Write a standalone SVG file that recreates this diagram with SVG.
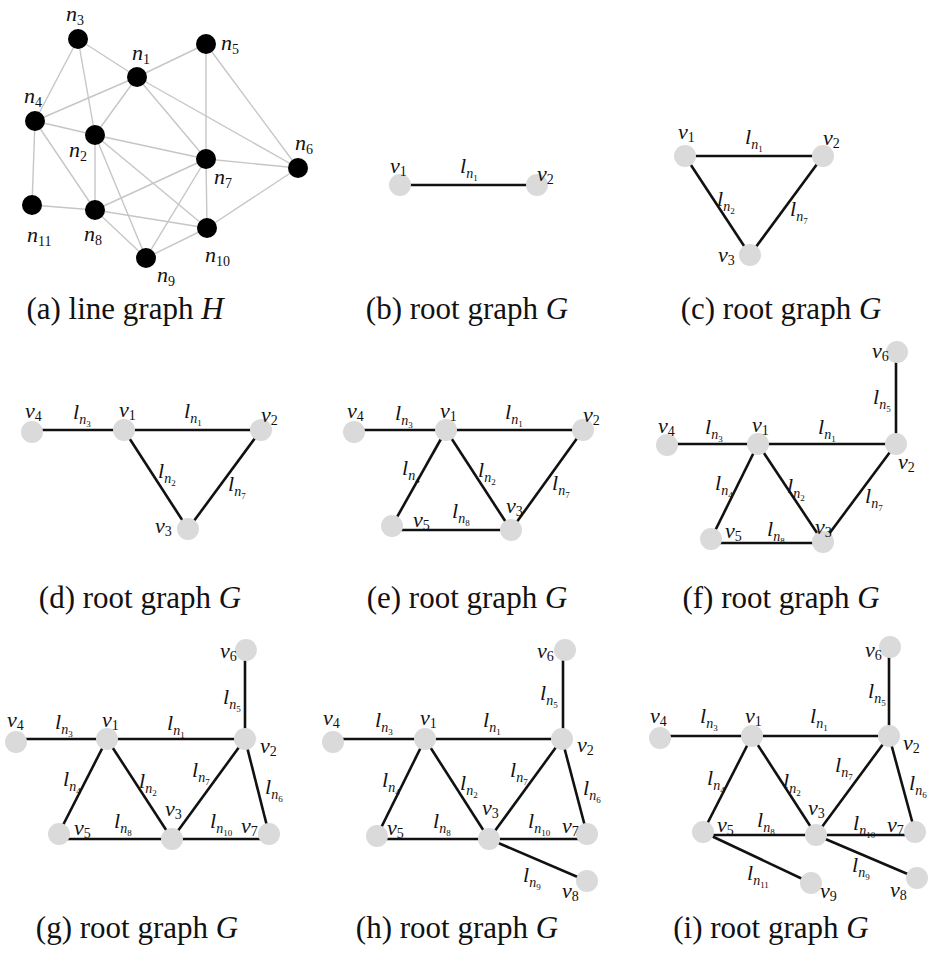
<svg xmlns="http://www.w3.org/2000/svg" width="928" height="961" viewBox="0 0 928 961">
<style>
.bg{fill:#ffffff}
.ea{stroke:#c6c6c6;stroke-width:1.4;fill:none}
.e{stroke:#111111;stroke-width:2.6;fill:none}
.na{fill:#000000}
.n{fill:#dadada}
.t{font-family:"Liberation Serif",serif;font-style:italic;font-size:22px;fill:#111}
.s{font-style:normal;font-size:14px}
.sn{font-style:italic;font-size:14px}
.ss{font-style:normal;font-size:9px}
.cap{font-family:"Liberation Serif",serif;font-size:31px;fill:#111;text-anchor:middle}
</style>
<rect class="bg" x="0" y="0" width="928" height="961"/>
<g id="connectors">
 <g id="edges-a" class="ea">
  <line x1="78" y1="39" x2="35" y2="121"/>
  <line x1="78" y1="39" x2="95" y2="135"/>
  <line x1="78" y1="39" x2="137" y2="77"/>
  <line x1="137" y1="77" x2="206" y2="44"/>
  <line x1="137" y1="77" x2="35" y2="121"/>
  <line x1="137" y1="77" x2="95" y2="135"/>
  <line x1="137" y1="77" x2="206" y2="159"/>
  <line x1="137" y1="77" x2="298" y2="168"/>
  <line x1="206" y1="44" x2="206" y2="159"/>
  <line x1="206" y1="44" x2="298" y2="168"/>
  <line x1="35" y1="121" x2="95" y2="135"/>
  <line x1="35" y1="121" x2="32" y2="205"/>
  <line x1="35" y1="121" x2="95" y2="210"/>
  <line x1="95" y1="135" x2="206" y2="159"/>
  <line x1="95" y1="135" x2="95" y2="210"/>
  <line x1="95" y1="135" x2="146" y2="258"/>
  <line x1="95" y1="135" x2="207" y2="228"/>
  <line x1="206" y1="159" x2="298" y2="168"/>
  <line x1="206" y1="159" x2="95" y2="210"/>
  <line x1="206" y1="159" x2="146" y2="258"/>
  <line x1="206" y1="159" x2="207" y2="228"/>
  <line x1="298" y1="168" x2="207" y2="228"/>
  <line x1="32" y1="205" x2="95" y2="210"/>
  <line x1="95" y1="210" x2="207" y2="228"/>
  <line x1="95" y1="210" x2="146" y2="258"/>
  <line x1="146" y1="258" x2="207" y2="228"/>
 </g>
 <g id="edges-b" class="e">
  <line x1="400" y1="185" x2="537" y2="185"/>
 </g>
 <g id="edges-c" class="e">
  <line x1="685" y1="156" x2="823" y2="156"/>
  <line x1="685" y1="156" x2="750" y2="255"/>
  <line x1="823" y1="156" x2="750" y2="255"/>
 </g>
 <g id="edges-d" class="e">
  <line x1="32" y1="430" x2="124" y2="430"/>
  <line x1="124" y1="430" x2="261" y2="430"/>
  <line x1="124" y1="430" x2="188" y2="529"/>
  <line x1="261" y1="430" x2="188" y2="529"/>
 </g>
 <g id="edges-e" class="e">
  <line x1="354" y1="430" x2="446" y2="430"/>
  <line x1="446" y1="430" x2="583" y2="430"/>
  <line x1="446" y1="430" x2="392" y2="526"/>
  <line x1="446" y1="430" x2="511" y2="530"/>
  <line x1="583" y1="430" x2="511" y2="530"/>
  <line x1="392" y1="530" x2="511" y2="530"/>
 </g>
 <g id="edges-f" class="e">
  <line x1="896" y1="352" x2="896" y2="444"/>
  <line x1="667" y1="444" x2="758" y2="444"/>
  <line x1="758" y1="444" x2="896" y2="444"/>
  <line x1="758" y1="444" x2="711" y2="539"/>
  <line x1="758" y1="444" x2="823" y2="542"/>
  <line x1="896" y1="444" x2="823" y2="542"/>
  <line x1="711" y1="543" x2="823" y2="543"/>
 </g>
 <g id="edges-g" class="e">
  <line x1="245" y1="650" x2="245" y2="739"/>
  <line x1="16" y1="739" x2="107" y2="739"/>
  <line x1="107" y1="739" x2="245" y2="739"/>
  <line x1="107" y1="739" x2="59" y2="833"/>
  <line x1="107" y1="739" x2="172" y2="839"/>
  <line x1="245" y1="739" x2="172" y2="839"/>
  <line x1="245" y1="739" x2="269" y2="834"/>
  <line x1="59" y1="839" x2="269" y2="839"/>
 </g>
 <g id="edges-h" class="e">
  <line x1="563" y1="650" x2="563" y2="739"/>
  <line x1="333" y1="739" x2="425" y2="739"/>
  <line x1="425" y1="739" x2="562" y2="739"/>
  <line x1="425" y1="739" x2="377" y2="836"/>
  <line x1="425" y1="739" x2="489" y2="839"/>
  <line x1="562" y1="739" x2="489" y2="839"/>
  <line x1="562" y1="739" x2="587" y2="834"/>
  <line x1="377" y1="839" x2="587" y2="839"/>
  <line x1="489" y1="839" x2="587" y2="881"/>
 </g>
 <g id="edges-i" class="e">
  <line x1="889" y1="647" x2="889" y2="736"/>
  <line x1="660" y1="736" x2="752" y2="736"/>
  <line x1="752" y1="736" x2="889" y2="736"/>
  <line x1="752" y1="736" x2="703" y2="832"/>
  <line x1="752" y1="736" x2="816" y2="835"/>
  <line x1="889" y1="736" x2="816" y2="835"/>
  <line x1="889" y1="736" x2="915" y2="832"/>
  <line x1="703" y1="835" x2="915" y2="835"/>
  <line x1="816" y1="835" x2="917" y2="878"/>
  <line x1="703" y1="832" x2="811" y2="883"/>
 </g>
</g>
<g id="edge-labels" class="t">
 <text x="460" y="173">l<tspan class="sn" dy="5">n</tspan><tspan class="ss" dy="3">1</tspan></text>
 <text x="745" y="144">l<tspan class="sn" dy="5">n</tspan><tspan class="ss" dy="3">1</tspan></text>
 <text x="717" y="206">l<tspan class="sn" dy="5">n</tspan><tspan class="ss" dy="3">2</tspan></text>
 <text x="790" y="216">l<tspan class="sn" dy="5">n</tspan><tspan class="ss" dy="3">7</tspan></text>
 <text x="73" y="419">l<tspan class="sn" dy="5">n</tspan><tspan class="ss" dy="3">3</tspan></text>
 <text x="184" y="418">l<tspan class="sn" dy="5">n</tspan><tspan class="ss" dy="3">1</tspan></text>
 <text x="158" y="478">l<tspan class="sn" dy="5">n</tspan><tspan class="ss" dy="3">2</tspan></text>
 <text x="228" y="491">l<tspan class="sn" dy="5">n</tspan><tspan class="ss" dy="3">7</tspan></text>
 <text x="395" y="420">l<tspan class="sn" dy="5">n</tspan><tspan class="ss" dy="3">3</tspan></text>
 <text x="505" y="419">l<tspan class="sn" dy="5">n</tspan><tspan class="ss" dy="3">1</tspan></text>
 <text x="402" y="475">l<tspan class="sn" dy="5">n</tspan><tspan class="ss" dy="3">4</tspan></text>
 <text x="478" y="477">l<tspan class="sn" dy="5">n</tspan><tspan class="ss" dy="3">2</tspan></text>
 <text x="552" y="490">l<tspan class="sn" dy="5">n</tspan><tspan class="ss" dy="3">7</tspan></text>
 <text x="452" y="518">l<tspan class="sn" dy="5">n</tspan><tspan class="ss" dy="3">8</tspan></text>
 <text x="873" y="404">l<tspan class="sn" dy="5">n</tspan><tspan class="ss" dy="3">5</tspan></text>
 <text x="705" y="434">l<tspan class="sn" dy="5">n</tspan><tspan class="ss" dy="3">3</tspan></text>
 <text x="818" y="434">l<tspan class="sn" dy="5">n</tspan><tspan class="ss" dy="3">1</tspan></text>
 <text x="715" y="490">l<tspan class="sn" dy="5">n</tspan><tspan class="ss" dy="3">4</tspan></text>
 <text x="787" y="493">l<tspan class="sn" dy="5">n</tspan><tspan class="ss" dy="3">2</tspan></text>
 <text x="865" y="503">l<tspan class="sn" dy="5">n</tspan><tspan class="ss" dy="3">7</tspan></text>
 <text x="767" y="536">l<tspan class="sn" dy="5">n</tspan><tspan class="ss" dy="3">8</tspan></text>
 <text x="223" y="704">l<tspan class="sn" dy="5">n</tspan><tspan class="ss" dy="3">5</tspan></text>
 <text x="55" y="729">l<tspan class="sn" dy="5">n</tspan><tspan class="ss" dy="3">3</tspan></text>
 <text x="167" y="730">l<tspan class="sn" dy="5">n</tspan><tspan class="ss" dy="3">1</tspan></text>
 <text x="63" y="786">l<tspan class="sn" dy="5">n</tspan><tspan class="ss" dy="3">4</tspan></text>
 <text x="139" y="788">l<tspan class="sn" dy="5">n</tspan><tspan class="ss" dy="3">2</tspan></text>
 <text x="192" y="777">l<tspan class="sn" dy="5">n</tspan><tspan class="ss" dy="3">7</tspan></text>
 <text x="265" y="794">l<tspan class="sn" dy="5">n</tspan><tspan class="ss" dy="3">6</tspan></text>
 <text x="114" y="828">l<tspan class="sn" dy="5">n</tspan><tspan class="ss" dy="3">8</tspan></text>
 <text x="210" y="828">l<tspan class="sn" dy="5">n</tspan><tspan class="ss" dy="3">10</tspan></text>
 <text x="540" y="700">l<tspan class="sn" dy="5">n</tspan><tspan class="ss" dy="3">5</tspan></text>
 <text x="375" y="727">l<tspan class="sn" dy="5">n</tspan><tspan class="ss" dy="3">3</tspan></text>
 <text x="483" y="727">l<tspan class="sn" dy="5">n</tspan><tspan class="ss" dy="3">1</tspan></text>
 <text x="382" y="787">l<tspan class="sn" dy="5">n</tspan><tspan class="ss" dy="3">4</tspan></text>
 <text x="460" y="790">l<tspan class="sn" dy="5">n</tspan><tspan class="ss" dy="3">2</tspan></text>
 <text x="510" y="777">l<tspan class="sn" dy="5">n</tspan><tspan class="ss" dy="3">7</tspan></text>
 <text x="583" y="795">l<tspan class="sn" dy="5">n</tspan><tspan class="ss" dy="3">6</tspan></text>
 <text x="433" y="828">l<tspan class="sn" dy="5">n</tspan><tspan class="ss" dy="3">8</tspan></text>
 <text x="528" y="828">l<tspan class="sn" dy="5">n</tspan><tspan class="ss" dy="3">10</tspan></text>
 <text x="523" y="882">l<tspan class="sn" dy="5">n</tspan><tspan class="ss" dy="3">9</tspan></text>
 <text x="868" y="698">l<tspan class="sn" dy="5">n</tspan><tspan class="ss" dy="3">5</tspan></text>
 <text x="700" y="723">l<tspan class="sn" dy="5">n</tspan><tspan class="ss" dy="3">3</tspan></text>
 <text x="810" y="723">l<tspan class="sn" dy="5">n</tspan><tspan class="ss" dy="3">1</tspan></text>
 <text x="707" y="785">l<tspan class="sn" dy="5">n</tspan><tspan class="ss" dy="3">4</tspan></text>
 <text x="783" y="788">l<tspan class="sn" dy="5">n</tspan><tspan class="ss" dy="3">2</tspan></text>
 <text x="835" y="772">l<tspan class="sn" dy="5">n</tspan><tspan class="ss" dy="3">7</tspan></text>
 <text x="909" y="790">l<tspan class="sn" dy="5">n</tspan><tspan class="ss" dy="3">6</tspan></text>
 <text x="757" y="827">l<tspan class="sn" dy="5">n</tspan><tspan class="ss" dy="3">8</tspan></text>
 <text x="853" y="830">l<tspan class="sn" dy="5">n</tspan><tspan class="ss" dy="3">10</tspan></text>
 <text x="747" y="880">l<tspan class="sn" dy="5">n</tspan><tspan class="ss" dy="3">11</tspan></text>
 <text x="852" y="872">l<tspan class="sn" dy="5">n</tspan><tspan class="ss" dy="3">9</tspan></text>
</g>
<g id="panel-a-nodes">
 <g id="a-n1"><circle class="na" cx="137" cy="77" r="10"/><text class="t" x="132" y="60">n<tspan class="s" dy="4">1</tspan></text></g>
 <g id="a-n2"><circle class="na" cx="95" cy="135" r="10"/><text class="t" x="69" y="157">n<tspan class="s" dy="4">2</tspan></text></g>
 <g id="a-n3"><circle class="na" cx="78" cy="39" r="10"/><text class="t" x="66" y="21">n<tspan class="s" dy="4">3</tspan></text></g>
 <g id="a-n4"><circle class="na" cx="35" cy="121" r="10"/><text class="t" x="24" y="103">n<tspan class="s" dy="4">4</tspan></text></g>
 <g id="a-n5"><circle class="na" cx="206" cy="44" r="10"/><text class="t" x="221" y="50">n<tspan class="s" dy="4">5</tspan></text></g>
 <g id="a-n6"><circle class="na" cx="298" cy="168" r="10"/><text class="t" x="295" y="150">n<tspan class="s" dy="4">6</tspan></text></g>
 <g id="a-n7"><circle class="na" cx="206" cy="159" r="10"/><text class="t" x="214" y="184">n<tspan class="s" dy="4">7</tspan></text></g>
 <g id="a-n8"><circle class="na" cx="95" cy="210" r="10"/><text class="t" x="84" y="241">n<tspan class="s" dy="4">8</tspan></text></g>
 <g id="a-n9"><circle class="na" cx="146" cy="258" r="10"/><text class="t" x="157" y="282">n<tspan class="s" dy="4">9</tspan></text></g>
 <g id="a-n10"><circle class="na" cx="207" cy="228" r="10"/><text class="t" x="205" y="262">n<tspan class="s" dy="4">10</tspan></text></g>
 <g id="a-n11"><circle class="na" cx="32" cy="205" r="10"/><text class="t" x="27" y="242">n<tspan class="s" dy="4">11</tspan></text></g>
</g>
<g id="panel-b-nodes">
 <g id="b-v1"><circle class="n" cx="400" cy="185" r="11"/><text class="t" x="390" y="173">v<tspan class="s" dy="3">1</tspan></text></g>
 <g id="b-v2"><circle class="n" cx="537" cy="185" r="11"/><text class="t" x="537" y="181">v<tspan class="s" dy="3">2</tspan></text></g>
</g>
<g id="panel-c-nodes">
 <g id="c-v1"><circle class="n" cx="685" cy="156" r="11"/><text class="t" x="678" y="139">v<tspan class="s" dy="3">1</tspan></text></g>
 <g id="c-v2"><circle class="n" cx="823" cy="156" r="11"/><text class="t" x="823" y="145">v<tspan class="s" dy="3">2</tspan></text></g>
 <g id="c-v3"><circle class="n" cx="750" cy="255" r="11"/><text class="t" x="718" y="262">v<tspan class="s" dy="3">3</tspan></text></g>
</g>
<g id="panel-d-nodes">
 <g id="d-v4"><circle class="n" cx="32" cy="432" r="11"/><text class="t" x="25" y="418">v<tspan class="s" dy="3">4</tspan></text></g>
 <g id="d-v1"><circle class="n" cx="124" cy="430" r="11"/><text class="t" x="119" y="417">v<tspan class="s" dy="3">1</tspan></text></g>
 <g id="d-v2"><circle class="n" cx="261" cy="430" r="11"/><text class="t" x="261" y="422">v<tspan class="s" dy="3">2</tspan></text></g>
 <g id="d-v3"><circle class="n" cx="188" cy="529" r="11"/><text class="t" x="155" y="533">v<tspan class="s" dy="3">3</tspan></text></g>
</g>
<g id="panel-e-nodes">
 <g id="e-v4"><circle class="n" cx="354" cy="432" r="11"/><text class="t" x="347" y="418">v<tspan class="s" dy="3">4</tspan></text></g>
 <g id="e-v1"><circle class="n" cx="446" cy="430" r="11"/><text class="t" x="440" y="418">v<tspan class="s" dy="3">1</tspan></text></g>
 <g id="e-v2"><circle class="n" cx="583" cy="430" r="11"/><text class="t" x="583" y="422">v<tspan class="s" dy="3">2</tspan></text></g>
 <g id="e-v5"><circle class="n" cx="392" cy="526" r="11"/><text class="t" x="413" y="527">v<tspan class="s" dy="3">5</tspan></text></g>
 <g id="e-v3"><circle class="n" cx="511" cy="530" r="11"/><text class="t" x="506" y="513">v<tspan class="s" dy="3">3</tspan></text></g>
</g>
<g id="panel-f-nodes">
 <g id="f-v6"><circle class="n" cx="897" cy="352" r="11"/><text class="t" x="872" y="358">v<tspan class="s" dy="3">6</tspan></text></g>
 <g id="f-v4"><circle class="n" cx="667" cy="445" r="11"/><text class="t" x="658" y="433">v<tspan class="s" dy="3">4</tspan></text></g>
 <g id="f-v1"><circle class="n" cx="758" cy="444" r="11"/><text class="t" x="752" y="432">v<tspan class="s" dy="3">1</tspan></text></g>
 <g id="f-v2"><circle class="n" cx="896" cy="444" r="11"/><text class="t" x="898" y="469">v<tspan class="s" dy="3">2</tspan></text></g>
 <g id="f-v5"><circle class="n" cx="711" cy="539" r="11"/><text class="t" x="725" y="538">v<tspan class="s" dy="3">5</tspan></text></g>
 <g id="f-v3"><circle class="n" cx="823" cy="542" r="11"/><text class="t" x="815" y="534">v<tspan class="s" dy="3">3</tspan></text></g>
</g>
<g id="panel-g-nodes">
 <g id="g-v6"><circle class="n" cx="246" cy="650" r="11"/><text class="t" x="220" y="658">v<tspan class="s" dy="3">6</tspan></text></g>
 <g id="g-v4"><circle class="n" cx="16" cy="742" r="11"/><text class="t" x="7" y="727">v<tspan class="s" dy="3">4</tspan></text></g>
 <g id="g-v1"><circle class="n" cx="107" cy="739" r="11"/><text class="t" x="102" y="727">v<tspan class="s" dy="3">1</tspan></text></g>
 <g id="g-v2"><circle class="n" cx="245" cy="739" r="11"/><text class="t" x="260" y="753">v<tspan class="s" dy="3">2</tspan></text></g>
 <g id="g-v5"><circle class="n" cx="59" cy="834" r="11"/><text class="t" x="74" y="835">v<tspan class="s" dy="3">5</tspan></text></g>
 <g id="g-v3"><circle class="n" cx="172" cy="839" r="11"/><text class="t" x="165" y="816">v<tspan class="s" dy="3">3</tspan></text></g>
 <g id="g-v7"><circle class="n" cx="269" cy="834" r="11"/><text class="t" x="241" y="833">v<tspan class="s" dy="3">7</tspan></text></g>
</g>
<g id="panel-h-nodes">
 <g id="h-v6"><circle class="n" cx="565" cy="650" r="11"/><text class="t" x="537" y="658">v<tspan class="s" dy="3">6</tspan></text></g>
 <g id="h-v4"><circle class="n" cx="333" cy="742" r="11"/><text class="t" x="323" y="725">v<tspan class="s" dy="3">4</tspan></text></g>
 <g id="h-v1"><circle class="n" cx="425" cy="739" r="11"/><text class="t" x="420" y="725">v<tspan class="s" dy="3">1</tspan></text></g>
 <g id="h-v2"><circle class="n" cx="562" cy="739" r="11"/><text class="t" x="577" y="752">v<tspan class="s" dy="3">2</tspan></text></g>
 <g id="h-v5"><circle class="n" cx="377" cy="836" r="11"/><text class="t" x="387" y="835">v<tspan class="s" dy="3">5</tspan></text></g>
 <g id="h-v3"><circle class="n" cx="489" cy="839" r="11"/><text class="t" x="482" y="815">v<tspan class="s" dy="3">3</tspan></text></g>
 <g id="h-v7"><circle class="n" cx="587" cy="834" r="11"/><text class="t" x="562" y="833">v<tspan class="s" dy="3">7</tspan></text></g>
 <g id="h-v8"><circle class="n" cx="587" cy="881" r="11"/><text class="t" x="562" y="898">v<tspan class="s" dy="3">8</tspan></text></g>
</g>
<g id="panel-i-nodes">
 <g id="i-v6"><circle class="n" cx="890" cy="647" r="11"/><text class="t" x="865" y="657">v<tspan class="s" dy="3">6</tspan></text></g>
 <g id="i-v4"><circle class="n" cx="660" cy="738" r="11"/><text class="t" x="650" y="723">v<tspan class="s" dy="3">4</tspan></text></g>
 <g id="i-v1"><circle class="n" cx="752" cy="736" r="11"/><text class="t" x="745" y="723">v<tspan class="s" dy="3">1</tspan></text></g>
 <g id="i-v2"><circle class="n" cx="889" cy="736" r="11"/><text class="t" x="903" y="750">v<tspan class="s" dy="3">2</tspan></text></g>
 <g id="i-v5"><circle class="n" cx="703" cy="832" r="11"/><text class="t" x="717" y="832">v<tspan class="s" dy="3">5</tspan></text></g>
 <g id="i-v3"><circle class="n" cx="816" cy="835" r="11"/><text class="t" x="808" y="815">v<tspan class="s" dy="3">3</tspan></text></g>
 <g id="i-v7"><circle class="n" cx="915" cy="832" r="11"/><text class="t" x="887" y="832">v<tspan class="s" dy="3">7</tspan></text></g>
 <g id="i-v9"><circle class="n" cx="811" cy="883" r="11"/><text class="t" x="820" y="898">v<tspan class="s" dy="3">9</tspan></text></g>
 <g id="i-v8"><circle class="n" cx="917" cy="878" r="11"/><text class="t" x="890" y="897">v<tspan class="s" dy="3">8</tspan></text></g>
</g>
<g id="captions" class="cap">
 <text x="125" y="319">(a) line graph <tspan font-style="italic">H</tspan></text>
 <text x="467" y="319">(b) root graph <tspan font-style="italic">G</tspan></text>
 <text x="781" y="319">(c) root graph <tspan font-style="italic">G</tspan></text>
 <text x="140" y="608">(d) root graph <tspan font-style="italic">G</tspan></text>
 <text x="467" y="608">(e) root graph <tspan font-style="italic">G</tspan></text>
 <text x="781" y="608">(f) root graph <tspan font-style="italic">G</tspan></text>
 <text x="137" y="938">(g) root graph <tspan font-style="italic">G</tspan></text>
 <text x="457" y="938">(h) root graph <tspan font-style="italic">G</tspan></text>
 <text x="771" y="938">(i) root graph <tspan font-style="italic">G</tspan></text>
</g>
</svg>
